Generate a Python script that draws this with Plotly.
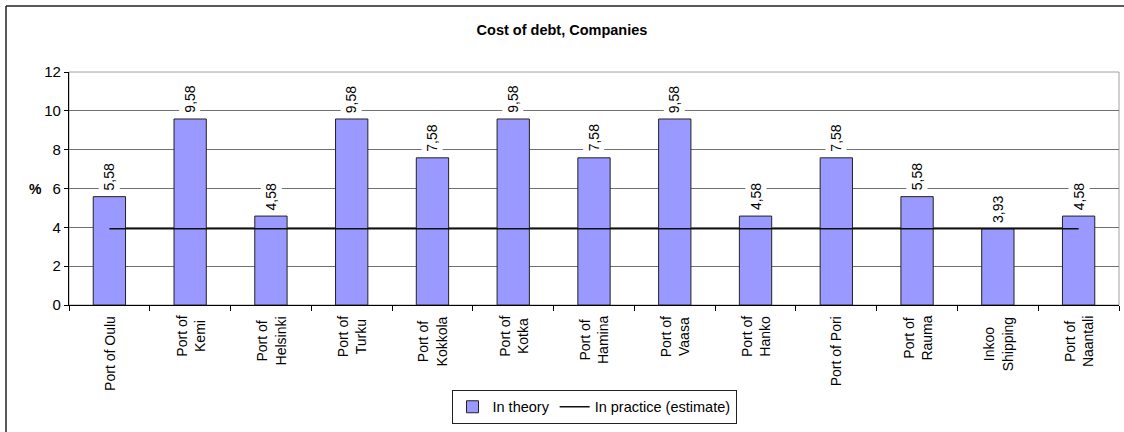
import plotly.graph_objects as go

# Cost of debt per company (%)
companies = [
    "Port of Oulu", "Port of<br>Kemi", "Port of<br>Helsinki", "Port of<br>Turku",
    "Port of<br>Kokkola", "Port of<br>Kotka", "Port of<br>Hamina", "Port of<br>Vaasa",
    "Port of<br>Hanko", "Port of Pori", "Port of<br>Rauma", "Inkoo<br>Shipping",
    "Port of<br>Naantali",
]
in_theory = [5.58, 9.58, 4.58, 9.58, 7.58, 9.58, 7.58, 9.58, 4.58, 7.58, 5.58, 3.93, 4.58]
in_practice = [3.93] * len(companies)
y_ticks = [0, 2, 4, 6, 8, 10, 12]

FONT = "Liberation Sans, Arial, sans-serif"
cat_ids = list(range(len(companies)))

fig = go.Figure()
fig.add_trace(go.Bar(
    x=cat_ids, y=in_theory, name="In theory",
    marker=dict(color="#9999FF", line=dict(color="#222222", width=1)),
))
fig.add_trace(go.Scatter(
    x=cat_ids, y=in_practice, name="In practice (estimate)", mode="lines",
    line=dict(color="#111111", width=1.6),
))

annotations = []
# value labels above each bar
for i, v in enumerate(in_theory):
    annotations.append(dict(
        x=i, y=v, xref="x", yref="y", text=f"{v:.2f}".replace(".", ","),
        showarrow=False, textangle=-90, yanchor="bottom", xanchor="center",
        yshift=3, bgcolor="white", borderpad=2,
        font=dict(family=FONT, size=14, color="black"),
    ))
# rotated category labels, centred line by line
for i, name in enumerate(companies):
    annotations.append(dict(
        x=i, y=0, xref="x", yref="paper", text=name, showarrow=False,
        textangle=-90, yanchor="top", xanchor="center", align="center",
        yshift=-9, font=dict(family=FONT, size=14, color="black"),
    ))
# axis unit
annotations.append(dict(
    x=-0.04, y=0.5, xref="paper", yref="paper", text="<b>%</b>", showarrow=False,
    font=dict(family=FONT, size=14, color="black"),
))

shapes = [
    # plot area border
    dict(type="rect", xref="paper", yref="paper", x0=0, x1=1, y0=0, y1=1,
         line=dict(color="#a0a0a0", width=1), layer="below"),
    # chart frame (left and top edges)
    dict(type="line", xref="paper", yref="paper", x0=-0.06, x1=-0.06, y0=-0.6, y1=1.283,
         line=dict(color="#222222", width=1.5), layer="below"),
    dict(type="line", xref="paper", yref="paper", x0=-0.06, x1=1.01, y0=1.283, y1=1.283,
         line=dict(color="#222222", width=1.5), layer="below"),
]

fig.update_layout(
    width=1124, height=432,
    margin=dict(l=69, r=5, t=72, b=127),
    paper_bgcolor="white", plot_bgcolor="white",
    font=dict(family=FONT, size=14, color="black"),
    title=dict(text="<b>Cost of debt, Companies</b>", x=0.5, xref="container",
               y=1 - 30 / 432, yanchor="middle",
               font=dict(family=FONT, size=14.5, color="black")),
    bargap=0.6,
    showlegend=True,
    legend=dict(orientation="h", x=0.5, xanchor="center", y=-0.51, yanchor="bottom",
                bordercolor="#222222", borderwidth=1, bgcolor="white",
                font=dict(family=FONT, size=14.5, color="black"),
                itemwidth=30, tracegroupgap=0),
    xaxis=dict(
        range=[-0.5, len(companies) - 0.5], tickmode="array", tickvals=cat_ids,
        showticklabels=False, showgrid=False, zeroline=False,
        showline=True, linecolor="black", linewidth=1.2,
        ticks="", fixedrange=True,
    ),
    yaxis=dict(
        range=[0, 12], tickvals=y_ticks, ticks="outside", ticklen=4,
        tickcolor="black", showline=True, linecolor="black", linewidth=1.2,
        showgrid=True, gridcolor="#707070", gridwidth=1, zeroline=False,
        tickfont=dict(family=FONT, size=15, color="black"),
    ),
    annotations=annotations,
    shapes=shapes,
)

# tick marks on the category boundaries
fig.update_layout(xaxis2=dict(
    overlaying="x", range=[-0.5, len(companies) - 0.5],
    tickvals=[i - 0.5 for i in range(len(companies) + 1)],
    ticks="outside", ticklen=5, tickcolor="black", showticklabels=False,
    showgrid=False, zeroline=False, showline=False, side="bottom", anchor="y",
))
fig.add_trace(go.Scatter(x=[], y=[], xaxis="x2", showlegend=False, hoverinfo="skip"))

fig.write_html("out.html")
